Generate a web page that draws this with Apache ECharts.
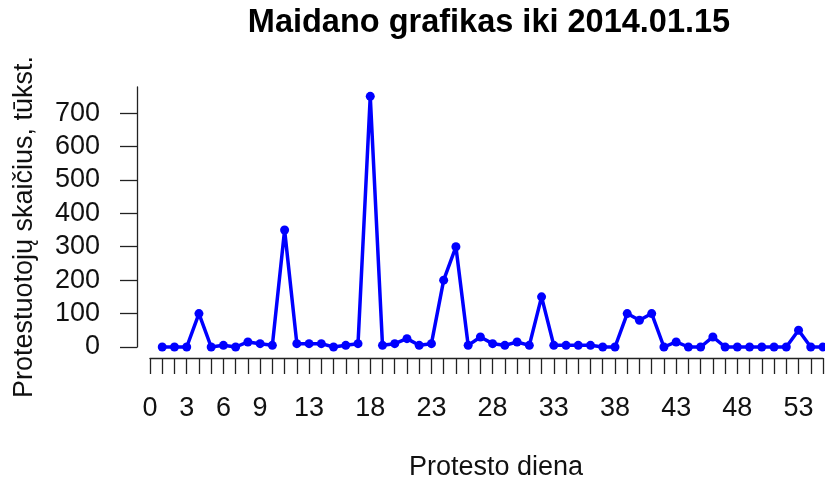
<!DOCTYPE html>
<html>
<head>
<meta charset="utf-8">
<script src="https://cdn.jsdelivr.net/npm/echarts@6/dist/echarts.min.js"></script>
<style>html,body{margin:0;padding:0;background:#fff}#c{width:825px;height:482px}</style>
</head>
<body>
<div id="c"></div>
<script>
var days = [1,2,3,4,5,6,7,8,9,10,11,12,13,14,15,16,17,18,19,20,21,22,23,24,25,26,27,28,29,30,31,32,33,34,35,36,37,38,39,40,41,42,43,44,45,46,47,48,49,50,51,52,53,54,55];
var protesters = [0,0,0,100,0,5,0,15,10,5,350,10,10,10,0,5,10,750,5,10,25,5,10,200,300,5,30,10,5,15,5,150,5,5,5,5,0,0,100,80,100,0,15,0,0,30,0,0,0,0,0,0,50,0,0];
var xTickLabels = [0,3,6,9,13,18,23,28,33,38,43,48,53];
var yTickLabels = [0,100,200,300,400,500,600,700];
var titleText = 'Maidano grafikas iki 2014.01.15';
var xName = 'Protesto diena';
var yName = 'Protestuotojų skaičius, tūkst.';

var xTicks = [];
for (var i = 0; i <= 55; i++) xTicks.push(i);
var seriesData = days.map(function (d, i) { return [d, protesters[i]]; });

var FONT = '"Liberation Sans", Arial, sans-serif';
var chart = echarts.init(document.getElementById('c'), null, {renderer: 'canvas'});
chart.setOption({
  animation: false,
  backgroundColor: '#ffffff',
  grid: {left: 150, right: 2, top: 87, bottom: 135},
  xAxis: {
    type: 'value', min: 0, max: 55, interval: 1,
    offset: 11,
    splitLine: {show: false},
    axisLine: {show: true, onZero: false, lineStyle: {color: '#222', width: 1.3}},
    axisTick: {show: true, length: 16, customValues: xTicks, lineStyle: {color: '#222', width: 1.3}},
    axisLabel: {customValues: xTickLabels, margin: 37, fontSize: 27, fontFamily: FONT, color: '#111', verticalAlign: 'top'}
  },
  yAxis: {
    type: 'value', min: 0, max: 778, interval: 100,
    offset: 13,
    splitLine: {show: false},
    axisLine: {show: true, onZero: false, lineStyle: {color: '#222', width: 1.3}},
    axisTick: {show: true, length: 17, customValues: yTickLabels, lineStyle: {color: '#222', width: 1.3}},
    axisLabel: {customValues: yTickLabels, margin: 37, fontSize: 27, fontFamily: FONT, color: '#111'}
  },
  graphic: [
    {type: 'text', x: 489, y: 23, style: {text: titleText, font: 'bold 32.5px ' + FONT, fill: '#000', align: 'center', verticalAlign: 'middle'}},
    {type: 'text', x: 496, y: 468, style: {text: xName, font: '27px ' + FONT, fill: '#111', align: 'center', verticalAlign: 'middle'}},
    {type: 'text', x: 25, y: 227, rotation: Math.PI / 2, style: {text: yName, font: '27px ' + FONT, fill: '#111', align: 'center', verticalAlign: 'middle'}}
  ],
  series: [{
    type: 'line',
    data: seriesData,
    symbol: 'circle',
    symbolSize: 9,
    showSymbol: true,
    clip: false,
    lineStyle: {color: '#0000ff', width: 3.5},
    itemStyle: {color: '#0000ff'}
  }]
});
</script>
</body>
</html>
